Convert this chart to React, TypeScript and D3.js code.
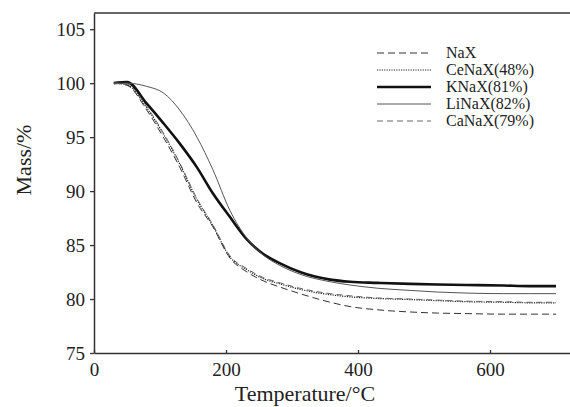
import { useEffect, useRef } from "react";
import * as d3 from "d3";

const temps = [30, 50, 80, 105, 130, 156, 180, 206, 232, 256, 282, 312, 358, 388, 430, 479, 520, 565, 620, 660, 700];

const naX = [100, 99.8, 97.5, 95, 92.2, 88.9, 86.7, 83.8, 82.5, 81.7, 81.1, 80.5, 79.7, 79.3, 79.0, 78.8, 78.7, 78.65, 78.6, 78.6, 78.6];
const ceNaX = [100, 99.85, 97.7, 95.3, 92.5, 89.2, 86.8, 83.9, 82.7, 81.9, 81.4, 80.9, 80.4, 80.2, 80.05, 79.95, 79.85, 79.75, 79.7, 79.65, 79.65];
const kNaX = [100, 100.1, 98.1, 96.3, 94.4, 92.2, 89.8, 87.6, 85.5, 84.2, 83.3, 82.5, 81.8, 81.6, 81.5, 81.4, 81.35, 81.3, 81.25, 81.2, 81.2];
const liNaX = [100, 100, 99.7, 99.1, 97.5, 95, 92, 88.2, 85.6, 84.1, 83.1, 82.3, 81.6, 81.3, 81.0, 80.8, 80.65, 80.55, 80.5, 80.5, 80.5];
const caNaX = [100, 99.9, 97.8, 95.4, 92.6, 89.3, 86.9, 84.0, 82.8, 82.0, 81.5, 81.0, 80.5, 80.3, 80.1, 80.0, 79.9, 79.8, 79.75, 79.7, 79.7];

const xTicks = [0, 200, 400, 600];
const yTicks = [75, 80, 85, 90, 95, 100, 105];

const series = [
  { name: "NaX", values: naX, stroke: "#333", width: 1, dash: "7,4" },
  { name: "CeNaX(48%)", values: ceNaX, stroke: "#222", width: 1.2, dash: "1.2,1.2" },
  { name: "KNaX(81%)", values: kNaX, stroke: "#111", width: 2.6, dash: null },
  { name: "LiNaX(82%)", values: liNaX, stroke: "#555", width: 1, dash: null },
  { name: "CaNaX(79%)", values: caNaX, stroke: "#666", width: 1, dash: "6,4" },
];

const font = "'Liberation Serif', 'Times New Roman', serif";

export default function App() {
  const xRef = useRef<SVGGElement>(null);
  const yRef = useRef<SVGGElement>(null);

  const x = d3.scaleLinear().domain([0, 721.2]).range([94, 570]);
  const y = d3.scaleLinear().domain([75, 106.5]).range([353, 13]);

  const line = d3
    .line<number>()
    .x((_, i) => x(temps[i]))
    .y((d) => y(d))
    .curve(d3.curveMonotoneX);

  useEffect(() => {
    const gx = d3.select(xRef.current!);
    gx.call(d3.axisBottom(x).tickValues(xTicks).tickSizeInner(-3).tickSizeOuter(0).tickPadding(10));
    const gy = d3.select(yRef.current!);
    gy.call(d3.axisLeft(y).tickValues(yTicks).tickSizeInner(4).tickSizeOuter(0).tickPadding(5));
    [gx, gy].forEach((g) => {
      g.attr("font-family", null).attr("font-size", null);
      g.selectAll("path.domain").attr("stroke", "#333").attr("stroke-width", 1.5);
      g.selectAll(".tick line").attr("stroke", "#333").attr("stroke-width", 1.3);
      g.selectAll(".tick text").attr("fill", "#222").style("font-family", font).style("font-size", "19px");
    });
  }, []);

  return (
    <svg width={570} height={407} style={{ position: "absolute", left: 0, top: 0, background: "#fff" }}>
      <line x1={94} x2={570} y1={13} y2={13} stroke="#333" strokeWidth={1.5} />
      <g ref={xRef} transform="translate(0,353)" />
      <g ref={yRef} transform="translate(94,0)" />
      {series.map((s) => (
        <path
          key={s.name}
          d={line(s.values) || ""}
          fill="none"
          stroke={s.stroke}
          strokeWidth={s.width}
          strokeDasharray={s.dash || undefined}
        />
      ))}
      <g>
        {series.map((s, i) => {
          const ly = 53 + i * 17;
          return (
            <g key={s.name}>
              <line x1={377} x2={431} y1={ly} y2={ly} stroke={s.stroke} strokeWidth={s.width} strokeDasharray={s.dash || undefined} />
              <text x={446} y={ly + 5} style={{ fontFamily: font, fontSize: "16px" }} fill="#222">
                {s.name}
              </text>
            </g>
          );
        })}
      </g>
      <text x={305} y={401} textAnchor="middle" style={{ fontFamily: font, fontSize: "22px" }} fill="#222">
        Temperature/°C
      </text>
      <text transform="translate(31,160) rotate(-90)" textAnchor="middle" style={{ fontFamily: font, fontSize: "22px" }} fill="#222">
        Mass/%
      </text>
    </svg>
  );
}
